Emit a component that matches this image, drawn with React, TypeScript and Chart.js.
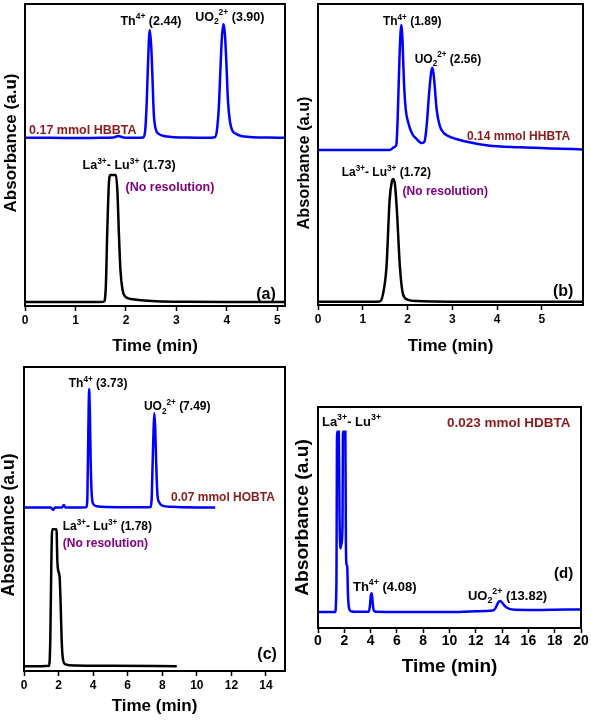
import React, { useEffect, useRef } from "react";
import { Chart, registerables } from "chart.js";
Chart.register(...registerables);

const FONT = "'Liberation Sans', Arial, Helvetica, sans-serif";
const BLUE = "#0000ff";
const BLACK = "#000000";
const DARKRED = "#8b1a1a";
const PURPLE = "#800080";

// ---------- Panel (a) : 0.17 mmol HBBTA ----------
const timeA_blue = [0, 0.5, 1.0, 1.5, 1.75, 1.85, 1.95, 2.2, 2.34, 2.38, 2.41, 2.44, 2.47, 2.50, 2.52, 2.55, 2.59, 2.65, 2.75, 2.9, 3.2, 3.6, 3.76, 3.80, 3.84, 3.87, 3.90, 3.93, 3.96, 3.99, 4.02, 4.06, 4.11, 4.18, 4.28, 4.45, 4.8, 5.15];
const absA_blue = [55.7, 55.7, 55.6, 55.7, 55.8, 56.3, 55.8, 55.7, 55.8, 58, 67, 82, 91.4, 86, 78, 64, 58.5, 57, 56.3, 56, 55.8, 55.7, 55.9, 58, 66, 78, 89, 93.4, 90, 80, 68, 61, 58, 57, 56.3, 56, 55.8, 55.7];
const timeA_black = [0, 1.0, 1.56, 1.60, 1.63, 1.66, 1.69, 1.80, 1.83, 1.86, 1.89, 1.93, 1.98, 2.1, 2.3, 2.6, 3.2, 4.0, 5.15];
const absA_black = [1.3, 1.3, 1.4, 6, 25, 40, 43.4, 43.4, 38, 24, 12, 5.5, 3.2, 2.3, 1.9, 1.6, 1.4, 1.3, 1.3];
const ticksA = [0, 1, 2, 3, 4, 5];
const labelsA = ["Th^{4+} (2.44)", "UO_{2}^{2+} (3.90)", "0.17 mmol HBBTA", "La^{3+}- Lu^{3+} (1.73)", "(No resolution)", "(a)"];

// ---------- Panel (b) : 0.14 mmol HHBTA ----------
const timeB_blue = [0, 0.8, 1.6, 1.70, 1.75, 1.78, 1.82, 1.86, 1.89, 1.92, 1.96, 2.02, 2.10, 2.20, 2.32, 2.38, 2.43, 2.48, 2.53, 2.56, 2.60, 2.65, 2.72, 2.82, 3.0, 3.3, 3.8, 4.5, 5.2, 5.92];
const absB_blue = [51.5, 51.5, 51.5, 52.4, 53.2, 62, 82, 93, 87, 74, 65, 60.4, 57, 55.2, 53.8, 54.3, 60, 70, 77.5, 78.8, 74, 65, 59.5, 57, 55.6, 54.3, 53.0, 52.4, 52.0, 51.7];
const timeB_black = [0, 1.0, 1.38, 1.45, 1.53, 1.60, 1.65, 1.68, 1.72, 1.76, 1.83, 1.90, 2.0, 2.2, 3.0, 5.92];
const absB_black = [1.1, 1.1, 1.2, 3.5, 12.7, 34.9, 41, 41.9, 40, 32, 12.7, 3.5, 1.8, 1.3, 1.1, 1.1];
const ticksB = [0, 1, 2, 3, 4, 5];
const labelsB = ["Th^{4+} (1.89)", "UO_{2}^{2+} (2.56)", "0.14 mmol HHBTA", "La^{3+}- Lu^{3+} (1.72)", "(No resolution)", "(b)"];

// ---------- Panel (c) : 0.07 mmol HOBTA ----------
const timeC_blue = [0, 1.0, 1.55, 1.68, 1.80, 2.2, 2.3, 2.4, 3.0, 3.6, 3.66, 3.70, 3.74, 3.77, 3.81, 3.86, 3.92, 4.0, 4.2, 5.5, 7.3, 7.38, 7.44, 7.50, 7.54, 7.59, 7.65, 7.72, 7.82, 8.0, 8.5, 10.0, 11.06];
const absC_blue = [53.8, 53.8, 53.8, 53.0, 53.8, 53.8, 54.6, 53.8, 53.8, 53.9, 56, 70, 86, 92.8, 85, 68, 58, 55, 54.2, 53.9, 53.9, 56, 68, 80, 84.8, 80, 68, 58, 55.5, 54.4, 54, 53.8, 53.8];
const timeC_black = [0, 1.0, 1.45, 1.52, 1.58, 1.63, 1.88, 1.93, 1.98, 2.06, 2.12, 2.18, 2.25, 2.4, 3.0, 5.0, 8.84];
const absC_black = [1.6, 1.6, 1.7, 10, 35, 46.6, 46.6, 36, 33, 31, 22, 10, 4, 2.2, 1.8, 1.7, 1.6];
const ticksC = [0, 2, 4, 6, 8, 10, 12, 14];
const labelsC = ["Th^{4+} (3.73)", "UO_{2}^{2+} (7.49)", "0.07 mmol HOBTA", "La^{3+}- Lu^{3+} (1.78)", "(No resolution)", "(c)"];

// ---------- Panel (d) : 0.023 mmol HDBTA ----------
const timeD_blue = [0, 1.0, 1.30, 1.40, 1.45, 1.58, 1.64, 1.70, 1.78, 1.86, 1.90, 2.08, 2.12, 2.16, 2.22, 2.28, 2.36, 2.5, 3.0, 3.85, 3.95, 4.02, 4.08, 4.14, 4.2, 4.3, 4.5, 6.0, 10.0, 12.0, 13.3, 13.5, 13.7, 13.85, 14.0, 14.2, 14.5, 15.0, 17.0, 20.0];
const absD_blue = [7.2, 7.2, 7.2, 20, 88.8, 88.8, 50, 36, 38, 45, 88.8, 88.8, 40, 29, 28, 15, 9, 7.6, 7.3, 7.3, 10, 15, 15.7, 13, 9, 7.6, 7.3, 7.2, 7.2, 7.6, 7.9, 9, 11.5, 12.2, 11.5, 10, 8.8, 8.3, 8.2, 8.4];
const ticksD = [0, 2, 4, 6, 8, 10, 12, 14, 16, 18, 20];
const labelsD = ["La^{3+}- Lu^{3+}", "0.023 mmol HDBTA", "Th^{4+} (4.08)", "UO_{2}^{2+} (13.82)", "(d)"];

const X_TITLE = "Time (min)";
const Y_TITLE = "Absorbance (a.u)";

type Seg = { t: string; mode: "n" | "sup" | "sub" };
function parseRich(s: string): Seg[] {
  const segs: Seg[] = [];
  const re = /\^\{([^}]*)\}|_\{([^}]*)\}|([^^_]+)/g;
  let m: RegExpExecArray | null;
  while ((m = re.exec(s))) {
    if (m[1] !== undefined) segs.push({ t: m[1], mode: "sup" });
    else if (m[2] !== undefined) segs.push({ t: m[2], mode: "sub" });
    else segs.push({ t: m[3], mode: "n" });
  }
  return segs;
}
function drawRich(ctx: CanvasRenderingContext2D, s: string, x: number, y: number, size: number, color: string) {
  ctx.save();
  ctx.fillStyle = color;
  ctx.textBaseline = "alphabetic";
  ctx.textAlign = "left";
  const base = y + size * 0.36;
  let cx = x;
  for (const seg of parseRich(s)) {
    const fs = seg.mode === "n" ? size : size * 0.68;
    ctx.font = `bold ${fs}px ${FONT}`;
    const dy = seg.mode === "sup" ? -size * 0.42 : seg.mode === "sub" ? size * 0.28 : 0;
    ctx.fillText(seg.t, cx, base + dy);
    cx += ctx.measureText(seg.t).width;
  }
  ctx.restore();
}

type Ann = { text: string; x: number; y: number; color: string; size: number };
type Series = { x: number[]; y: number[]; color: string };
type PanelCfg = {
  left: number; top: number; width: number; height: number;
  pad: { top: number; right: number; bottom: number; left: number };
  yAxisWidth: number; xAxisHeight: number;
  xMax: number; ticks: number[]; tickSize: number; tickPad: number;
  xTitleSize: number; xTitlePad: number;
  yTitleSize: number; yTitleX: number; yTitleShift: number;
  series: Series[]; anns: Ann[];
};

const panels: PanelCfg[] = [
  {
    left: 0, top: 0, width: 295, height: 365,
    pad: { top: 4, right: 10, bottom: 0, left: 0 },
    yAxisWidth: 25, xAxisHeight: 59,
    xMax: 5.15, ticks: ticksA, tickSize: 12, tickPad: 2,
    xTitleSize: 17, xTitlePad: 8.8,
    yTitleSize: 17, yTitleX: 11, yTitleShift: -12,
    series: [
      { x: timeA_blue, y: absA_blue, color: BLUE },
      { x: timeA_black, y: absA_black, color: BLACK },
    ],
    anns: [
      { text: labelsA[0], x: 1.89, y: 94.7, color: BLACK, size: 12.5 },
      { text: labelsA[1], x: 3.37, y: 96, color: BLACK, size: 12.5 },
      { text: labelsA[2], x: 0.08, y: 58.3, color: DARKRED, size: 12.5 },
      { text: labelsA[3], x: 1.14, y: 46.7, color: BLACK, size: 12.5 },
      { text: labelsA[4], x: 1.99, y: 39.7, color: PURPLE, size: 12.5 },
      { text: labelsA[5], x: 4.58, y: 4.3, color: BLACK, size: 16 },
    ],
  },
  {
    left: 290, top: 0, width: 301, height: 365,
    pad: { top: 4, right: 8, bottom: 0, left: 0 },
    yAxisWidth: 28, xAxisHeight: 60,
    xMax: 5.92, ticks: ticksB, tickSize: 12, tickPad: 2,
    xTitleSize: 17, xTitlePad: 8.8,
    yTitleSize: 16.3, yTitleX: 15, yTitleShift: 8.5,
    series: [
      { x: timeB_blue, y: absB_blue, color: BLUE },
      { x: timeB_black, y: absB_black, color: BLACK },
    ],
    anns: [
      { text: labelsB[0], x: 1.45, y: 94.4, color: BLACK, size: 12 },
      { text: labelsB[1], x: 2.16, y: 82, color: BLACK, size: 12 },
      { text: labelsB[2], x: 3.33, y: 56.1, color: DARKRED, size: 12 },
      { text: labelsB[3], x: 0.53, y: 44.2, color: BLACK, size: 12 },
      { text: labelsB[4], x: 1.89, y: 37.9, color: PURPLE, size: 12 },
      { text: labelsB[5], x: 5.25, y: 5.0, color: BLACK, size: 16 },
    ],
  },
  {
    left: 0, top: 362, width: 290, height: 358,
    pad: { top: 5, right: 5, bottom: 0, left: 0 },
    yAxisWidth: 24, xAxisHeight: 49,
    xMax: 15.1, ticks: ticksC, tickSize: 12, tickPad: 2,
    xTitleSize: 17, xTitlePad: 3.1,
    yTitleSize: 17.5, yTitleX: 9.5, yTitleShift: 6,
    series: [
      { x: timeC_blue, y: absC_blue, color: BLUE },
      { x: timeC_black, y: absC_black, color: BLACK },
    ],
    anns: [
      { text: labelsC[0], x: 2.59, y: 94.7, color: BLACK, size: 12 },
      { text: labelsC[1], x: 6.94, y: 87.2, color: BLACK, size: 12 },
      { text: labelsC[2], x: 8.51, y: 57.2, color: DARKRED, size: 12 },
      { text: labelsC[3], x: 2.24, y: 47.7, color: BLACK, size: 12 },
      { text: labelsC[4], x: 2.24, y: 42.1, color: PURPLE, size: 12 },
      { text: labelsC[5], x: 13.5, y: 5.9, color: BLACK, size: 16 },
    ],
  },
  {
    left: 290, top: 400, width: 301, height: 320,
    pad: { top: 7, right: 10, bottom: 0, left: 0 },
    yAxisWidth: 28, xAxisHeight: 92,
    xMax: 20, ticks: ticksD, tickSize: 14, tickPad: 0,
    xTitleSize: 19, xTitlePad: 41.6,
    yTitleSize: 19.2, yTitleX: 13, yTitleShift: 0,
    series: [{ x: timeD_blue, y: absD_blue, color: BLUE }],
    anns: [
      { text: labelsD[0], x: 0.3, y: 93.7, color: BLACK, size: 13 },
      { text: labelsD[1], x: 9.81, y: 93.2, color: DARKRED, size: 13.5 },
      { text: labelsD[2], x: 2.66, y: 19, color: BLACK, size: 13 },
      { text: labelsD[3], x: 11.4, y: 14.9, color: BLACK, size: 13 },
      { text: labelsD[4], x: 17.95, y: 24.9, color: BLACK, size: 15 },
    ],
  },
];

function Panel({ cfg }: { cfg: PanelCfg }) {
  const ref = useRef<HTMLCanvasElement | null>(null);
  useEffect(() => {
    if (!ref.current) return;
    const annPlugin = {
      id: "annBox",
      afterDatasetsDraw(chart: any) {
        const { ctx, chartArea, scales } = chart;
        for (const a of cfg.anns) {
          const px = scales.x.getPixelForValue(a.x);
          const py = scales.y.getPixelForValue(a.y);
          drawRich(ctx, a.text, px, py, a.size, a.color);
        }
        ctx.save();
        ctx.strokeStyle = BLACK;
        ctx.lineWidth = 2;
        ctx.strokeRect(chartArea.left, chartArea.top, chartArea.right - chartArea.left, chartArea.bottom - chartArea.top);
        // y-axis title, centred on the y scale (with the reference's slight offset)
        const ys = scales.y;
        ctx.translate(cfg.yTitleX, (ys.top + ys.bottom) / 2 + cfg.yTitleShift);
        ctx.rotate(-Math.PI / 2);
        ctx.fillStyle = BLACK;
        ctx.font = `bold ${cfg.yTitleSize}px ${FONT}`;
        ctx.textAlign = "center";
        ctx.textBaseline = "middle";
        ctx.fillText(Y_TITLE, 0, 0);
        ctx.restore();
      },
    };
    const chart = new Chart(ref.current, {
      type: "line",
      data: {
        datasets: cfg.series.map((s) => ({
          data: s.x.map((x, i) => ({ x, y: s.y[i] })),
          borderColor: s.color,
          borderWidth: 2.5,
          pointRadius: 0,
          fill: false,
          cubicInterpolationMode: "monotone" as const,
        })),
      },
      options: {
        responsive: false,
        maintainAspectRatio: false,
        animation: false,
        layout: { padding: cfg.pad },
        plugins: { legend: { display: false }, tooltip: { enabled: false } },
        scales: {
          x: {
            type: "linear",
            min: 0,
            max: cfg.xMax,
            afterBuildTicks: (scale: any) => {
              scale.ticks = cfg.ticks.map((v) => ({ value: v }));
            },
            afterFit: (scale: any) => {
              scale.height = cfg.xAxisHeight;
            },
            ticks: {
              color: BLACK,
              padding: cfg.tickPad,
              maxRotation: 0,
              autoSkip: false,
              font: { family: FONT, weight: "bold", size: cfg.tickSize },
            },
            grid: { display: true, drawOnChartArea: false, drawTicks: true, tickLength: 5, tickColor: BLACK, tickWidth: 1.5 },
            border: { display: true, color: BLACK, width: 2 },
            title: {
              display: true,
              text: X_TITLE,
              color: BLACK,
              padding: { top: 0, bottom: cfg.xTitlePad },
              font: { family: FONT, weight: "bold", size: cfg.xTitleSize },
            },
          },
          y: {
            type: "linear",
            min: 0,
            max: 100,
            afterFit: (scale: any) => {
              scale.width = cfg.yAxisWidth;
            },
            ticks: { display: false },
            grid: { display: false },
            border: { display: true, color: BLACK, width: 2 },
            title: { display: false },
          },
        },
      } as any,
      plugins: [annPlugin],
    });
    return () => chart.destroy();
  }, [cfg]);
  return (
    <canvas
      ref={ref}
      width={cfg.width}
      height={cfg.height}
      style={{ position: "absolute", left: cfg.left, top: cfg.top, width: cfg.width, height: cfg.height }}
    />
  );
}

export default function App() {
  useEffect(() => {
    document.body.style.margin = "0";
    document.body.style.background = "#ffffff";
  }, []);
  return (
    <div style={{ position: "absolute", left: 0, top: 0, width: 591, height: 720, background: "#ffffff" }}>
      {panels.map((p, i) => (
        <Panel key={i} cfg={p} />
      ))}
    </div>
  );
}
